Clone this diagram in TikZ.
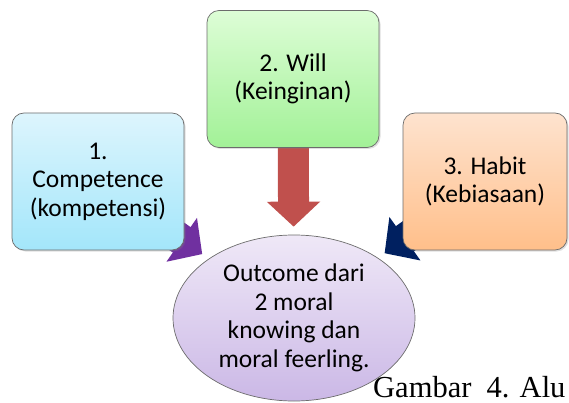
\documentclass[tikz,border=0pt]{standalone}
\usepackage{fontspec}
\setmainfont{Carlito}
\newfontfamily\capfont{Liberation Serif}
\usetikzlibrary{arrows.meta,shapes.geometric,shadows,backgrounds}
\definecolor{CompTop}{HTML}{DDF5FD}
\definecolor{CompBot}{HTML}{A3E6FA}
\definecolor{WillTop}{HTML}{DDFDD6}
\definecolor{WillBot}{HTML}{A2F197}
\definecolor{HabitTop}{HTML}{FEE3CF}
\definecolor{HabitBot}{HTML}{FFBF8A}
\definecolor{OutTop}{HTML}{EFE8F7}
\definecolor{OutBot}{HTML}{CBB8E6}
\definecolor{ArrPurple}{HTML}{7030A0}
\definecolor{ArrRed}{HTML}{C0504D}
\definecolor{ArrNavy}{HTML}{002060}
\tikzset{
  ibox/.style={draw=gray!85!black, line width=0.7pt, rounded corners=12pt,
    minimum width=172pt, minimum height=137pt, inner sep=2pt, align=center,
    font=\fontsize{25.5}{28.5}\selectfont,
    drop shadow={shadow xshift=1.5pt, shadow yshift=-1.5pt, opacity=0.25}},
  compbox/.style={ibox, top color=CompTop, bottom color=CompBot},
  willbox/.style={ibox, top color=WillTop, bottom color=WillBot},
  habitbox/.style={ibox, minimum width=164pt, top color=HabitTop, bottom color=HabitBot},
  outbox/.style={ellipse, draw=gray!85!black, line width=0.7pt, inner sep=0pt,
    minimum width=242pt, minimum height=166pt, align=center,
    font=\fontsize{25.5}{28.5}\selectfont, top color=OutTop, bottom color=OutBot},
  bigarr/.style={line width=31pt, -{Triangle[length=25pt,width=52pt]}, shorten >=8pt},
  captxt/.style={anchor=base west, inner sep=0pt, text depth=0pt,
    font=\capfont\fontsize{30.5}{34}\selectfont},
}

\begin{document}
\begin{tikzpicture}[x=1pt, y=-1pt]
  \clip (0,0) rectangle (569,403);
  \node[compbox] (comp) at (98,181.5) {1.\\Competence\\(kompetensi)};
  \node[willbox] (will) at (293,79) {2. Will\\(Keinginan)};
  \node[habitbox] (habit) at (485,181.5) {3. Habit\\(Kebiasaan)};
  \node[outbox] (outc) at (294,318) {Outcome dari\\2 moral\\knowing dan\\moral feerling.};
  \node[captxt] (cap) at (373,397) {Gambar\ \ 4. Alu};
  \begin{scope}[on background layer]
    \draw[bigarr, ArrPurple] (comp.center) -- (outc);
    \draw[bigarr, ArrRed] (will.center) -- (outc);
    \draw[bigarr, ArrNavy] (habit.center) -- (outc);
  \end{scope}
\end{tikzpicture}
\end{document}
